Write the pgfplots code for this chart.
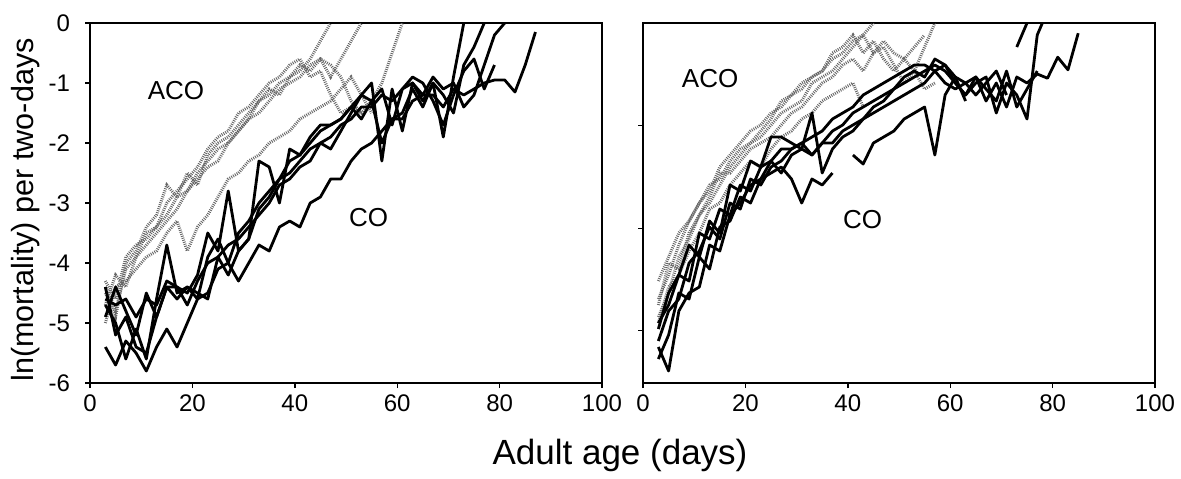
\documentclass[border=0pt]{standalone}
\usepackage{fontspec}
\setmainfont{Liberation Sans}
\usepackage{pgfplots}
\pgfplotsset{compat=1.18}
\newcommand{\lbl}{\fontsize{12pt}{14pt}\selectfont}
\newcommand{\txt}{\fontsize{13pt}{15pt}\selectfont}
\newcommand{\ylbl}{\fontsize{15.3pt}{17pt}\selectfont}
\newcommand{\xlbl}{\fontsize{17.5pt}{19pt}\selectfont}
\pgfplotsset{
  panel/.style={
    scale only axis, width=256pt, height=180pt,
    xmin=0, xmax=100, ymin=-6, ymax=0,
    xtick={0,20,...,100},
    xtick pos=bottom, ytick pos=left,
    tick align=outside, major tick length=2.5pt,
    axis line style={line width=0.7pt},
    every tick/.style={black, line width=0.7pt},
    ticklabel style={font=\lbl},
    yticklabel style={xshift=-4pt},
    /pgf/number format/assume math mode=true,
    unbounded coords=jump, clip=true,
  },
  co/.style={black, line width=1.4pt, line join=round},
  aco/.style={black!60, line width=1.5pt, dash pattern=on 0.45pt off 0.6pt},
}
\begin{document}
\begin{tikzpicture}
\useasboundingbox (0,0) rectangle (590.5pt,239pt);
% left panel
\begin{axis}[panel, at={(45pt,47.5pt)}, anchor=south west,
  ytick={-6,-5,...,0}]
\addplot[aco] coordinates {(3,-4.3)(5,-4.6)(7,-3.9)(9,-3.7)(11,-3.6)(13,-3.4)(15,-3.2)(17,-2.9)(19,-2.5)(21,-2.7)(23,-2.2)(25,-2.0)(27,-1.9)(29,-1.7)(31,-1.5)(33,-1.3)(35,-1.2)(37,-1.0)(39,-0.9)(41,-0.8)(43,-0.6)(45,-0.3)(47,0)};
\addplot[aco] coordinates {(3,-4.7)(5,-4.2)(7,-4.4)(9,-3.9)(11,-3.7)(13,-3.5)(15,-3.3)(17,-3.1)(19,-2.8)(21,-2.6)(23,-2.4)(25,-2.3)(27,-2.0)(29,-1.8)(31,-1.6)(33,-1.5)(35,-1.3)(37,-1.1)(39,-1.0)(41,-0.9)(43,-0.7)(45,-0.6)(47,-0.9)(49,-0.6)(51,-0.3)(53,0)};
\addplot[aco] coordinates {(3,-4.4)(5,-4.8)(7,-4.1)(9,-3.9)(11,-3.5)(13,-3.4)(15,-3.0)(17,-2.8)(19,-2.6)(21,-2.4)(23,-2.1)(25,-1.9)(27,-1.8)(29,-1.5)(31,-1.4)(33,-1.2)(35,-1.0)(37,-0.9)(39,-0.7)(41,-0.6)(43,-0.9)(45,-0.8)(47,-1.2)(49,-1.5)(51,-1.4)(53,-1.5)(55,-1.3)(57,-1.0)(59,-0.5)(61,0)};
\addplot[aco] coordinates {(3,-5.0)(5,-4.4)(7,-4.3)(9,-4.1)(11,-3.9)(13,-3.8)(15,-3.5)(17,-3.3)(19,-3.8)(21,-3.4)(23,-3.2)(25,-2.9)(27,-2.6)(29,-2.5)(31,-2.3)(33,-2.2)(35,-2.0)(37,-1.9)(39,-1.8)(41,-1.6)(43,-1.5)(45,-1.4)(47,-1.3)(49,-1.1)(51,-0.9)(53,-1.2)(55,-1.5)};
\addplot[aco] coordinates {(3,-4.5)(5,-4.9)(7,-4.0)(9,-3.8)(11,-3.4)(13,-3.2)(15,-2.7)(17,-2.9)(19,-2.8)(21,-2.5)(23,-2.3)(25,-2.1)(27,-2.0)(29,-1.8)(31,-1.6)(33,-1.3)(35,-1.1)(37,-1.2)(39,-0.9)(41,-0.7)(43,-0.8)(45,-0.6)(47,-0.7)(49,-0.9)(51,-1.3)(53,-1.5)};
\addplot[co] coordinates {(3,-5.4)(5,-5.7)(7,-5.3)(9,-5.5)(11,-5.8)(13,-5.4)(15,-5.1)(17,-5.4)(19,-5.0)(21,-4.6)(23,-4.5)(25,-4.1)(27,-4.0)(29,-4.3)(31,-4.0)(33,-3.7)(35,-3.8)(37,-3.4)(39,-3.3)(41,-3.4)(43,-3.0)(45,-2.9)(47,-2.6)(49,-2.6)(51,-2.3)(53,-2.1)(55,-2.0)(57,-1.8)(59,-1.6)(61,-1.6)(63,-1.3)(65,-1.2)(67,-1.2)(69,-1.4)(71,-1.1)(73,-1.2)(75,-1.1)(77,-1.0)(79,-0.95)(81,-0.95)(83,-1.15)(85,-0.7)(87,-0.15)};
\addplot[co] coordinates {(3,-4.4)(5,-5.2)(7,-4.9)(9,-5.4)(11,-5.5)(13,-4.9)(15,-4.4)(17,-4.6)(19,-4.4)(21,-4.6)(23,-3.9)(25,-3.6)(27,-4.0)(29,-3.5)(31,-3.3)(33,-3.0)(35,-2.8)(37,-2.6)(39,-2.5)(41,-2.3)(43,-2.1)(45,-2.0)(47,-1.9)(49,-1.7)(51,-1.6)(53,-1.4)(55,-1.4)(57,-1.2)(59,-1.3)(61,-1.1)(63,-1.0)(65,-1.3)(67,-1.0)(69,-1.2)(71,-1.5)(73,-0.7)(75,-0.4)(77,0)};
\addplot[co] coordinates {(3,-4.7)(5,-5.0)(7,-5.6)(9,-5.1)(11,-5.6)(13,-4.6)(15,-3.7)(17,-4.5)(19,-4.4)(21,-4.5)(23,-4.6)(25,-3.9)(27,-4.2)(29,-3.8)(31,-3.6)(33,-3.1)(35,-2.9)(37,-2.6)(39,-2.3)(41,-2.2)(43,-2.0)(45,-1.8)(47,-1.7)(49,-1.6)(51,-1.4)(53,-1.2)(55,-1.3)(57,-1.1)(59,-1.7)(61,-1.1)(63,-0.9)(65,-1.0)(67,-1.3)(69,-1.7)(71,-1.2)(73,-0.8)(75,-0.6)(77,-1.1)(79,-0.7)};
\addplot[co] coordinates {(3,-4.9)(5,-4.4)(7,-4.8)(9,-5.2)(11,-4.5)(13,-4.9)(15,-4.4)(17,-4.4)(19,-4.5)(21,-4.2)(23,-3.5)(25,-3.8)(27,-2.8)(29,-3.8)(31,-3.6)(33,-2.3)(35,-2.4)(37,-3.0)(39,-2.1)(41,-2.2)(43,-1.9)(45,-1.7)(47,-1.7)(49,-1.6)(51,-1.4)(53,-1.6)(55,-1.3)(57,-2.0)(59,-1.6)(61,-1.5)(63,-1.1)(65,-1.4)(67,-1.0)(69,-1.9)(71,-0.9)(73,0)};
\addplot[co] coordinates {(3,-4.6)(5,-4.7)(7,-4.6)(9,-4.9)(11,-4.6)(13,-4.7)(15,-4.3)(17,-4.4)(19,-4.7)(21,-4.3)(23,-4.0)(25,-3.9)(27,-3.7)(29,-3.6)(31,-3.4)(33,-3.2)(35,-3.0)(37,-2.7)(39,-2.6)(41,-2.4)(43,-2.3)(45,-2.0)(47,-2.1)(49,-1.8)(51,-1.5)(53,-1.2)(55,-1.0)(57,-2.3)(59,-1.1)(61,-1.8)(63,-1.0)(65,-1.2)(67,-0.9)(69,-1.1)(71,-1.0)(73,-1.4)(75,-1.2)(77,-0.7)(79,-0.2)(81,0)};
\node[font=\txt] at (axis cs:16.8,-1.12) {ACO};
\node[font=\txt] at (axis cs:54.4,-3.25) {CO};
\end{axis}
% right panel
\begin{axis}[panel, at={(321.5pt,47.5pt)}, anchor=south west,
  ytick={-5.12,-3.42,-1.71}, yticklabels={}]
\addplot[aco] coordinates {(3,-4.6)(5,-4.2)(7,-3.7)(9,-3.3)(11,-3.0)(13,-2.8)(15,-2.4)(17,-2.2)(19,-2.0)(21,-1.8)(23,-1.7)(25,-1.5)(27,-1.4)(29,-1.2)(31,-1.1)(33,-0.9)(35,-0.8)(37,-0.6)(39,-0.5)(41,-0.3)(43,-0.2)(45,0)};
\addplot[aco] coordinates {(3,-4.9)(5,-4.5)(7,-3.9)(9,-3.6)(11,-3.2)(13,-3.0)(15,-2.7)(17,-2.4)(19,-2.2)(21,-2.0)(23,-1.9)(25,-1.7)(27,-1.5)(29,-1.4)(31,-1.3)(33,-1.0)(35,-0.9)(37,-0.8)(39,-0.6)(41,-0.4)(43,-0.2)(45,-0.5)(47,-0.4)(49,-0.7)(51,-1.0)(53,-0.8)(55,-0.4)(57,0)};
\addplot[aco] coordinates {(3,-5.0)(5,-4.4)(7,-4.2)(9,-3.8)(11,-3.5)(13,-3.1)(15,-3.0)(17,-2.7)(19,-2.5)(21,-2.3)(23,-2.4)(25,-2.1)(27,-1.9)(29,-1.8)(31,-1.6)(33,-1.5)(35,-1.3)(37,-1.2)(39,-1.1)(41,-1.0)(43,-1.4)};
\addplot[aco] coordinates {(3,-4.3)(5,-3.9)(7,-3.5)(9,-3.3)(11,-3.0)(13,-2.7)(15,-2.6)(17,-2.3)(19,-2.1)(21,-2.0)(23,-1.8)(25,-1.6)(27,-1.3)(29,-1.2)(31,-1.0)(33,-0.9)(35,-0.8)(37,-0.5)(39,-0.4)(41,-0.2)(43,-0.5)(45,-0.3)(47,-0.6)(49,-0.8)(51,-0.6)(53,-0.8)(55,-1.1)(57,-1.0)};
\addplot[aco] coordinates {(3,-4.7)(5,-4.0)(7,-4.1)(9,-3.5)(11,-3.2)(13,-2.9)(15,-2.5)(17,-2.5)(19,-2.3)(21,-2.1)(23,-2.0)(25,-1.9)(27,-1.7)(29,-1.5)(31,-1.4)(33,-1.2)(35,-1.0)(37,-0.9)(39,-0.7)(41,-0.6)(43,-0.8)(45,-0.5)(47,-0.3)(49,-0.5)(51,-0.6)(53,-0.4)(55,-0.2)};
\addplot[co] coordinates {(3,-5.6)(5,-5.2)(7,-4.5)(9,-4.6)(11,-3.9)(13,-4.1)(15,-3.4)(17,-3.3)(19,-2.9)(21,-3.0)(23,-2.6)(25,-2.5)(27,-2.4)(29,-2.6)(31,-3.0)(33,-2.6)(35,-2.7)(37,-2.5)(39,nan)(41,-2.2)(43,-2.35)(45,-2.0)(47,-1.9)(49,-1.8)(51,-1.6)(53,-1.5)(55,-1.4)(57,-2.2)(59,-1.2)(61,-0.9)(63,-1.3)};
\addplot[co] coordinates {(3,-5.1)(5,-4.5)(7,-4.2)(9,-3.7)(11,-3.9)(13,-3.3)(15,-3.5)(17,-2.7)(19,-2.8)(21,-2.3)(23,-2.4)(25,-1.9)(27,-1.9)(29,-2.0)(31,-2.1)(33,-1.5)(35,-2.5)(37,-2.1)(39,-1.9)(41,-1.8)(43,-1.6)(45,-1.4)(47,-1.3)(49,-1.1)(51,-1.0)(53,-0.9)(55,-0.8)(57,-0.7)(59,-0.8)(61,-1.0)(63,-1.2)(65,-0.9)(67,-1.1)(69,-1.3)(71,-0.8)(73,-1.4)(75,-1.1)(77,-0.8)};
\addplot[co] coordinates {(3,-5.4)(5,-5.8)(7,-4.8)(9,-4.5)(11,-4.4)(13,-3.7)(15,-3.8)(17,-3.2)(19,-3.0)(21,-2.7)(23,-2.6)(25,-2.3)(27,-2.5)(29,-2.2)(31,-2.1)(33,-2.2)(35,-2.0)(37,-2.0)(39,-1.8)(41,-1.7)(43,-1.6)(45,-1.5)(47,-1.4)(49,-1.3)(51,-1.2)(53,-1.1)(55,-1.0)(57,-0.8)(59,-0.7)(61,-0.9)(63,-1.0)(65,-0.9)(67,-1.3)(69,-1.0)(71,-1.4)(73,-0.9)(75,-1.0)(77,-0.85)(79,-0.92)(81,-0.57)(83,-0.78)(85,-0.17)};
\addplot[co] coordinates {(3,-5.3)(5,-4.8)(7,-4.6)(9,-4.0)(11,-3.8)(13,-3.4)(15,-3.6)(17,-3.0)(19,-3.1)(21,-2.6)(23,-2.7)(25,-2.4)(27,-2.3)(29,-2.1)(31,-2.0)(33,-2.2)(35,-2.0)(37,-1.8)(39,-1.7)(41,-1.5)(43,-1.4)(45,-1.3)(47,-1.2)(49,-1.1)(51,-0.9)(53,-0.8)(55,-0.9)(57,-0.6)(59,-0.7)(61,-1.0)(63,-1.2)(65,-1.0)(67,-0.9)(69,-1.5)(71,-1.0)(73,-1.2)(75,-1.6)(77,-0.2)(78,0)};
\addplot[co] coordinates {(3,-5.0)(5,-4.7)(7,-4.2)(9,-4.3)(11,-3.5)(13,-3.6)(15,-3.1)(17,-3.2)(19,-2.7)(21,-2.8)(23,-2.4)(25,-2.3)(27,-2.1)(29,-2.1)(31,-2.0)(33,-1.9)(35,-1.8)(37,-1.6)(39,-1.5)(41,-1.4)(43,-1.2)(45,-1.1)(47,-1.0)(49,-0.9)(51,-0.8)(53,-0.7)(55,-0.7)(57,-0.8)(59,-1.0)(61,-1.1)(63,-1.0)(65,-1.2)(67,-1.0)(69,-0.8)(71,-1.2)(72,nan)(73,-0.4)(75,0)};
\node[font=\txt] at (axis cs:13.1,-0.92) {ACO};
\node[font=\txt] at (axis cs:42.9,-3.27) {CO};
\end{axis}
\node[font=\ylbl, rotate=90] at (12.75pt,134pt) {ln(mortality) per two-days};
\node[font=\xlbl] at (310pt,11.5pt) {Adult age (days)};
\end{tikzpicture}
\end{document}
